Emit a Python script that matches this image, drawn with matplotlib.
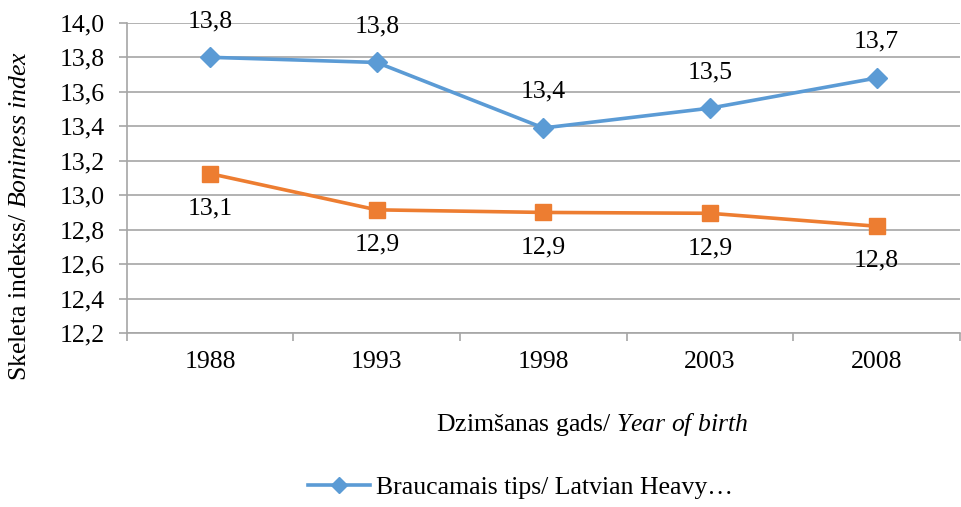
import matplotlib.pyplot as plt
from matplotlib.ticker import FuncFormatter
from matplotlib.lines import Line2D

plt.rcParams['font.family'] = ['Liberation Serif', 'DejaVu Serif']
plt.rcParams['mathtext.fontset'] = 'custom'
plt.rcParams['mathtext.rm'] = 'Liberation Serif'
plt.rcParams['mathtext.it'] = 'Liberation Serif:italic'

# dati
years = ['1988', '1993', '1998', '2003', '2008']
heavy = [13.80, 13.77, 13.39, 13.505, 13.68]
other = [13.125, 12.915, 12.90, 12.895, 12.82]
heavy_name = 'Braucamais tips/ Latvian Heavy…'

blue = '#5B9BD5'
orange = '#ED7D31'
grid_c = '#A6A6A6'
fs = 18.5

fig = plt.figure(figsize=(9.61, 5.07), dpi=100)
ax = fig.add_axes([0.132, 0.343, 0.867, 0.612])

x = list(range(len(years)))
ax.plot(x, heavy, color=blue, lw=2.6, marker='D', ms=10, zorder=3)
ax.plot(x, other, color=orange, lw=2.6, marker='s', ms=11, zorder=3)

def comma(v):
    return f'{v:.1f}'.replace('.', ',')

for i in x:
    ax.annotate(comma(heavy[i]), (i, heavy[i]), xytext=(0, 26), textcoords='offset points',
                ha='center', va='center', fontsize=fs)
    ax.annotate(comma(other[i]), (i, other[i]), xytext=(0, -25), textcoords='offset points',
                ha='center', va='center', fontsize=fs)

ax.set_xlim(-0.5, len(years) - 0.5)
ax.set_ylim(12.2, 14.0)
ax.set_yticks([12.2 + 0.2 * k for k in range(10)])
ax.yaxis.set_major_formatter(FuncFormatter(lambda v, p: comma(v)))
ax.set_xticks(x)
ax.set_xticklabels(years)
ax.set_xticks([k - 0.5 for k in range(len(years) + 1)], minor=True)
ax.tick_params(axis='x', which='major', length=0, labelsize=fs, pad=13,
               labelfontfamily='Liberation Serif')
ax.tick_params(axis='x', which='minor', length=6, color=grid_c, width=1.2)
ax.tick_params(axis='y', length=6, color=grid_c, width=1.2, labelsize=fs, pad=10,
               labelfontfamily='Liberation Serif')

ax.grid(axis='y', color=grid_c, lw=1.2)
ax.set_axisbelow(True)
for s in ['top', 'right']:
    ax.spines[s].set_visible(False)
for s in ['left', 'bottom']:
    ax.spines[s].set_color(grid_c)
    ax.spines[s].set_linewidth(1.2)

fig.text(0.021, 0.574, 'Skeleta indekss/ $\\mathit{Boniness\\ index}$', rotation=90,
         ha='center', va='center', fontsize=fs)
fig.text(0.616, 0.162, 'Dzimšanas gads/ $\\mathit{Year\\ of\\ birth}$',
         ha='center', va='center', fontsize=fs)

h = Line2D([], [], color=blue, lw=2.6, marker='D', ms=8)
fig.legend([h], [heavy_name], loc='center', bbox_to_anchor=(0.542, 0.039), frameon=False,
           fontsize=fs, handlelength=2.4, handletextpad=0.25)

fig.savefig('out.png', dpi=100)
